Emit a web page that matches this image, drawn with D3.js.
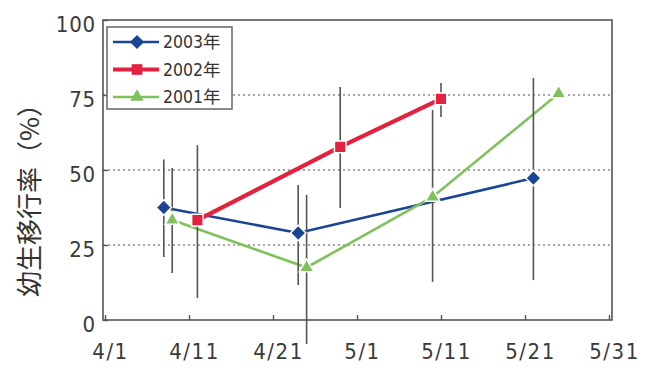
<!DOCTYPE html>
<html>
<head>
<meta charset="utf-8">
<script src="https://cdn.jsdelivr.net/npm/d3@7"></script>
<style>
  html, body { margin: 0; padding: 0; background: #fff; }
  svg { display: block; }
</style>
</head>
<body>
<svg id="chart" width="645" height="368"></svg>
<script>
// Survey dates (month/day) and larval migration rate (%) per year
const xTickLabels = ["4/1", "4/11", "4/21", "5/1", "5/11", "5/21", "5/31"];
const yTickValues = [0, 25, 50, 75, 100];

const dates2003 = ["4/8", "4/24", "5/22"];
const rate2003  = [37.5, 29, 47.3];
const low2003   = [21, 11.7, 13.3];
const high2003  = [53.5, 45, 80.7];

const dates2002 = ["4/12", "4/29", "5/11"];
const rate2002  = [33.3, 57.7, 73.7];
const low2002   = [7.3, 37.3, 67.7];
const high2002  = [58.3, 77.7, 79];

const dates2001 = ["4/9", "4/25", "5/10", "5/25"];
const rate2001  = [33.3, 17.5, 41, 75.5];
const low2001   = [15.7, -8, 12.7, null];
const high2001  = [50.7, 41.7, 70, null];

const seriesNames  = ["2003年", "2002年", "2001年"];
const seriesColors = ["#1a4595", "#e2223e", "#7fc25c"];

const parse = d3.timeParse("%m/%d");
const build = (dates, vals, lo, hi) => dates.map((d, i) => ({
  date: parse(d), value: vals[i], low: lo[i], high: hi[i]
}));
const series = [
  { name: seriesNames[0], color: seriesColors[0], shape: d3.symbolDiamond2, size: 150, width: 2.6, data: build(dates2003, rate2003, low2003, high2003) },
  { name: seriesNames[1], color: seriesColors[1], shape: d3.symbolSquare2,  size: 170, width: 4.2, data: build(dates2002, rate2002, low2002, high2002) },
  { name: seriesNames[2], color: seriesColors[2], shape: d3.symbolTriangle2, size: 150, width: 2.6, data: build(dates2001, rate2001, low2001, high2001) }
];

const svg = d3.select("#chart");
const margin = { left: 105, right: 36, top: 20, bottom: 48 };
const W = 645, H = 368;

const x = d3.scaleTime()
  .domain([parse(xTickLabels[0]), parse(xTickLabels[xTickLabels.length - 1])])
  .range([margin.left, W - margin.right]);
const y = d3.scaleLinear().domain([0, 100]).range([H - margin.bottom, margin.top]);

const frameL = x.range()[0] - 2, frameR = x.range()[1] + 3;

// dotted horizontal grid
svg.append("g").selectAll("line")
  .data(yTickValues.filter(v => v > 0 && v < 100))
  .join("line")
  .attr("x1", frameL).attr("x2", frameR)
  .attr("y1", d => y(d)).attr("y2", d => y(d))
  .attr("stroke", "#8a8a8a").attr("stroke-width", 1.3)
  .attr("stroke-dasharray", "2,3");

// frame
svg.append("rect")
  .attr("x", frameL).attr("y", y(100))
  .attr("width", frameR - frameL).attr("height", y(0) - y(100))
  .attr("fill", "none").attr("stroke", "#555").attr("stroke-width", 1.6);

// y axis
const yAxis = d3.axisLeft(y).tickValues(yTickValues).tickSize(-5).tickPadding(7)
  .tickFormat(d3.format("d"));
const gy = svg.append("g").attr("transform", `translate(${frameL},0)`).call(yAxis);
gy.select(".domain").remove();
gy.selectAll(".tick line").attr("stroke", "#555").attr("stroke-width", 1.4);
gy.selectAll(".tick text")
  .attr("dy", "0.5em")
  .attr("fill", "#3a3a3a")
  .style("font-family", "'DejaVu Sans Condensed', 'DejaVu Sans', sans-serif")
  .style("font-size", "22px")
  .style("letter-spacing", "0.8px");

// x axis
const xAxis = d3.axisBottom(x).tickValues(xTickLabels.map(parse)).tickSize(-5).tickPadding(23)
  .tickFormat(d3.timeFormat("%-m/%-d"));
const gx = svg.append("g").attr("transform", `translate(0,${y(0)})`).call(xAxis);
gx.select(".domain").remove();
gx.selectAll(".tick line").attr("stroke", "#555").attr("stroke-width", 1.4);
gx.selectAll(".tick text")
  .attr("dx", "5px")
  .attr("fill", "#3a3a3a")
  .style("font-family", "'DejaVu Sans Condensed', 'DejaVu Sans', sans-serif")
  .style("font-size", "22px")
  .style("letter-spacing", "1.5px");

// series lines
const line = d3.line().x(d => x(d.date)).y(d => y(d.value));
svg.append("g").selectAll("path")
  .data(series)
  .join("path")
  .attr("d", s => line(s.data))
  .attr("fill", "none")
  .attr("stroke", s => s.color)
  .attr("stroke-width", s => s.width);

// error bars
const bars = series.flatMap(s => s.data.filter(d => d.low != null));
svg.append("g").selectAll("line")
  .data(bars)
  .join("line")
  .attr("x1", d => x(d.date)).attr("x2", d => x(d.date))
  .attr("y1", d => y(d.low)).attr("y2", d => y(d.high))
  .attr("stroke", "#555").attr("stroke-width", 1.6);

// markers
series.forEach(s => {
  svg.append("g").selectAll("path")
    .data(s.data)
    .join("path")
    .attr("transform", d => `translate(${x(d.date)},${y(d.value)})`)
    .attr("d", d3.symbol().type(s.shape).size(s.size))
    .attr("fill", s.color)
    .attr("stroke", "#fff").attr("stroke-width", 1.5);
});

// legend
const lg = svg.append("g");
const lgX = 107, lgY = 27;
lg.append("rect")
  .attr("x", lgX).attr("y", lgY).attr("width", 125).attr("height", 82)
  .attr("fill", "#fff").attr("stroke", "#666").attr("stroke-width", 1.5);
series.forEach((s, i) => {
  const cy = lgY + 15 + i * 27.5;
  lg.append("line")
    .attr("x1", lgX + 6).attr("x2", lgX + 52).attr("y1", cy).attr("y2", cy)
    .attr("stroke", s.color).attr("stroke-width", s.width);
  lg.append("path")
    .attr("transform", `translate(${lgX + 30},${cy})`)
    .attr("d", d3.symbol().type(s.shape).size(s.size * 0.85))
    .attr("fill", s.color);
  lg.append("text")
    .attr("x", lgX + 56).attr("y", cy).attr("dy", "0.36em")
    .attr("fill", "#333")
    .style("font-family", "'DejaVu Sans Condensed', 'Noto Sans CJK JP', sans-serif")
    .style("font-size", "17.5px")
    .text(s.name);
});

// y axis title
svg.append("text")
  .attr("transform", "translate(30,194) rotate(-90)")
  .attr("text-anchor", "middle")
  .attr("dy", "0.35em")
  .attr("fill", "#333")
  .style("font-family", "'Noto Sans CJK JP', sans-serif")
  .style("font-size", "26px")
  .text("幼生移行率（%）");
</script>
</body>
</html>
